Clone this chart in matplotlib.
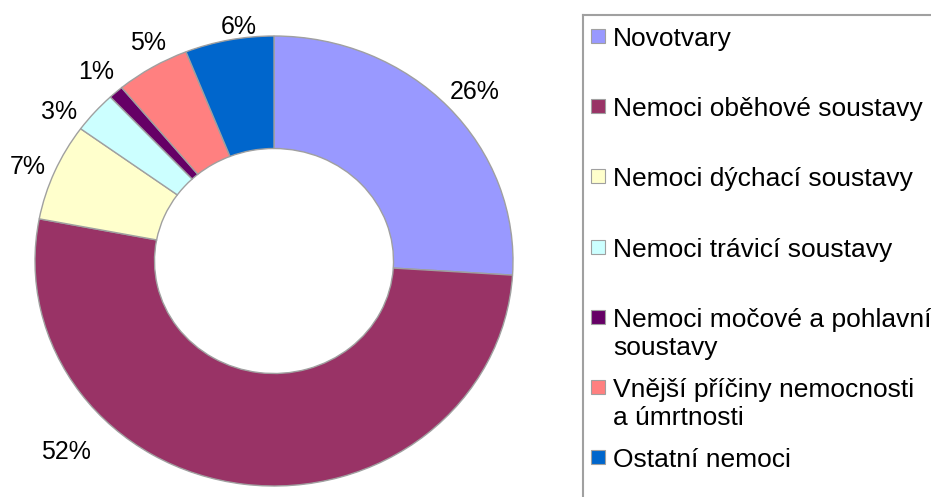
import numpy as np
import matplotlib
matplotlib.use("Agg")
import matplotlib.pyplot as plt
from matplotlib.patches import Rectangle
from matplotlib.lines import Line2D

categories = [
    "Novotvary",
    "Nemoci oběhové soustavy",
    "Nemoci dýchací soustavy",
    "Nemoci trávicí soustavy",
    "Nemoci močové a pohlavní\nsoustavy",
    "Vnější příčiny nemocnosti\na úmrtnosti",
    "Ostatní nemoci",
]
values = [26, 52, 7, 3, 1, 5, 6]
colors = ["#9999FF", "#993366", "#FFFFCC", "#CCFFFF", "#660066", "#FF8080", "#0066CC"]

# label placement (style): polar angle in degrees and radial distance
label_ang = [41.8, -135.7, 157.9, 143.7, 131.6, 118.5, 98.0]
label_r = [1.128, 1.216, 1.111, 1.117, 1.123, 1.103, 1.05]

W, H = 931, 497
plt.rcParams['font.family'] = ['Liberation Sans', 'DejaVu Sans']
fig = plt.figure(figsize=(W / 100, H / 100), dpi=100)

cx, cy, rx, ry = 274, 261, 239, 225
ax = fig.add_axes([(cx - rx) / W, (H - cy - ry) / H, 2 * rx / W, 2 * ry / H])
wedges, texts = ax.pie(
    values, colors=colors, startangle=90, counterclock=False,
    labels=[f"{v}%" for v in values], labeldistance=1.1,
    wedgeprops=dict(width=0.5, edgecolor="#A0A0A0", linewidth=1.0),
    textprops=dict(fontsize=18, color="black"),
)
ax.set_aspect("auto")
ax.set_xlim(-1, 1)
ax.set_ylim(-1, 1)
for t, a, r in zip(texts, label_ang, label_r):
    t.set_ha("center")
    t.set_va("center")
    t.set_clip_on(False)
    t.set_position((r * np.cos(np.deg2rad(a)), r * np.sin(np.deg2rad(a))))

lc = "#A0A0A0"
fig.add_artist(Line2D([583 / W, 1.0], [1 - 15 / H, 1 - 15 / H], color=lc, lw=1.5,
                      transform=fig.transFigure))
fig.add_artist(Line2D([583 / W, 583 / W], [1 - 15 / H, 0.0], color=lc, lw=1.5,
                      transform=fig.transFigure))

for i, (lab, col) in enumerate(zip(categories, colors)):
    base = 46 + i * 70.2
    fig.add_artist(Rectangle((591 / W, 1 - (base - 3) / H), 14 / W, 14 / H,
                             facecolor=col, edgecolor="#A0A0A0", lw=0.8,
                             transform=fig.transFigure))
    for k, line in enumerate(lab.split("\n")):
        fig.text(613 / W, 1 - (base + 28 * k) / H, line, fontsize=19,
                 ha="left", va="baseline")

fig.savefig("out.png", dpi=100)
